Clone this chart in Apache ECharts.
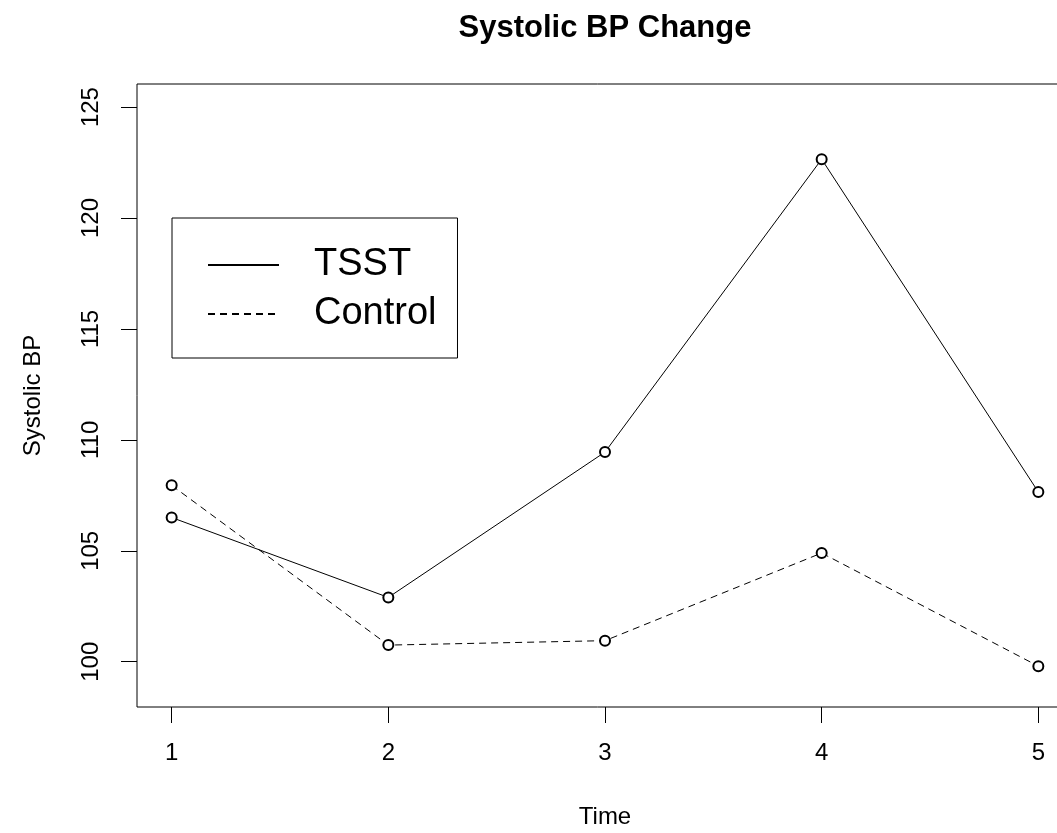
<!DOCTYPE html>
<html>
<head>
<meta charset="utf-8">
<title>Systolic BP Change</title>
<script src="https://cdn.jsdelivr.net/npm/echarts@6/dist/echarts.min.js"></script>
<style>
  html, body { margin: 0; padding: 0; background: #fff; }
  #chart { width: 1057px; height: 833px; }
</style>
</head>
<body>
<div id="chart"></div>
<script>
// data
const timePoints = [1, 2, 3, 4, 5]
const tsstBP = [106.5, 102.9, 109.45, 122.65, 107.65]
const controlBP = [107.95, 100.75, 100.95, 104.9, 99.8]
const yTicks = [100, 105, 110, 115, 120, 125]

const FONT = '"Liberation Sans", Arial, sans-serif'

function pairs(xs, ys) {
  return xs.map((x, i) => [x, ys[i]])
}

const chart = echarts.init(document.getElementById('chart'))

chart.setOption({
  animation: false,
  backgroundColor: '#fff',
  title: {
    text: 'Systolic BP Change',
    left: 600,
    top: 8,
    textAlign: 'center',
    textStyle: { fontFamily: FONT, fontSize: 31, fontWeight: 'bold', color: '#000' }
  },
  legend: {
    orient: 'vertical',
    left: 172,
    top: 218,
    padding: [28, 21, 25, 35],
    borderColor: '#000',
    borderWidth: 1,
    itemWidth: 71,
    itemHeight: 44,
    itemGap: 11,
    selectedMode: false,
    itemStyle: { opacity: 0 },
    textStyle: { fontFamily: FONT, fontSize: 38, color: '#000', padding: [0, 0, 0, 30] },
    data: ['TSST', 'Control']
  },
  grid: {
    left: 137,
    top: 84,
    width: 936,
    height: 623,
    outerBoundsMode: 'none',
    show: true,
    borderColor: '#000',
    borderWidth: 1
  },
  xAxis: {
    type: 'value',
    min: 0.84,
    max: 5.16,
    name: 'Time',
    nameLocation: 'middle',
    nameGap: 98,
    nameTextStyle: { fontFamily: FONT, fontSize: 24, color: '#000' },
    axisLine: { show: false },
    splitLine: { show: false },
    axisTick: { show: true, length: 16, lineStyle: { color: '#000' }, customValues: timePoints },
    axisLabel: { fontFamily: FONT, fontSize: 24, color: '#000', margin: 34, customValues: timePoints }
  },
  yAxis: {
    type: 'value',
    min: 97.96,
    max: 126.04,
    name: 'Systolic BP',
    nameLocation: 'middle',
    nameGap: 92,
    nameTextStyle: { fontFamily: FONT, fontSize: 24, color: '#000' },
    axisLine: { show: false },
    splitLine: { show: false },
    axisTick: { show: true, length: 16, lineStyle: { color: '#000' }, customValues: yTicks },
    axisLabel: { fontFamily: FONT, fontSize: 24, color: '#000', rotate: 90, margin: 34, customValues: yTicks }
  },
  series: [
    {
      name: 'TSST',
      type: 'line',
      data: pairs(timePoints, tsstBP),
      symbol: 'emptyCircle',
      symbolSize: 10,
      lineStyle: { color: '#000', width: 1, type: 'solid' },
      itemStyle: { color: '#000', borderWidth: 1 }
    },
    {
      name: 'Control',
      type: 'line',
      data: pairs(timePoints, controlBP),
      symbol: 'emptyCircle',
      symbolSize: 10,
      lineStyle: { color: '#000', width: 1, type: [7, 5] },
      itemStyle: { color: '#000', borderWidth: 1 }
    }
  ]
})
</script>
</body>
</html>
